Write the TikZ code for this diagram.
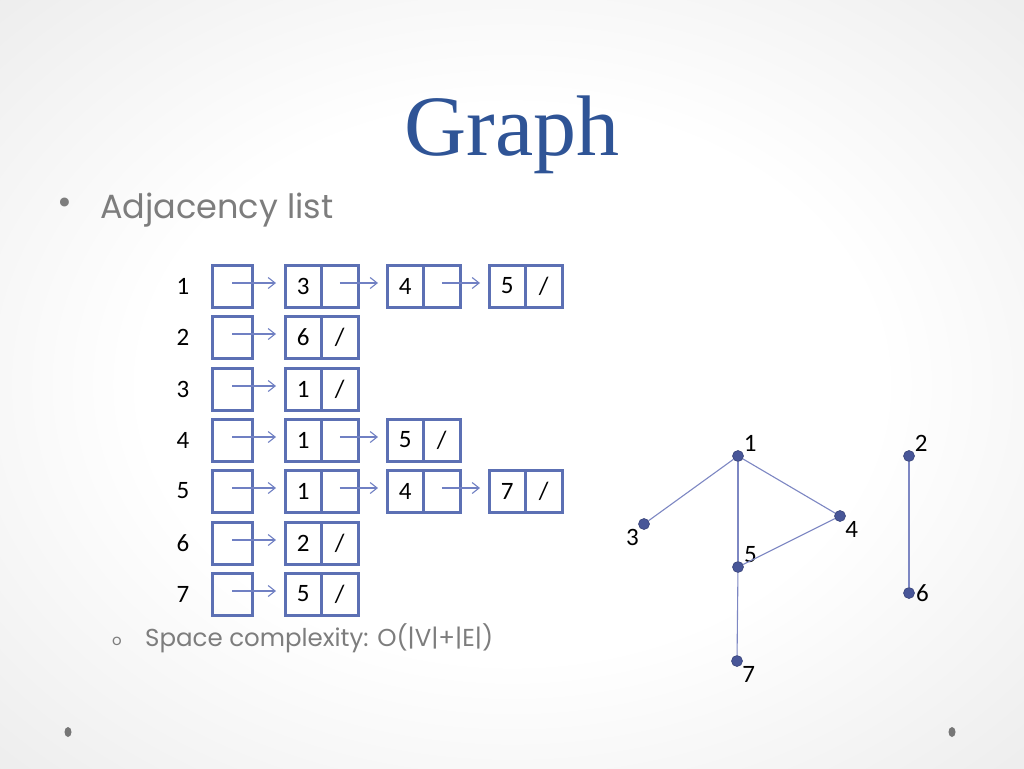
\documentclass[tikz,border=0pt]{standalone}
\usepackage{fontspec}
\setmainfont{Carlito}
\newfontfamily\titlefont{Liberation Serif}
\newfontfamily\slidefont{Poppins}
\usetikzlibrary{positioning, arrows.meta}
\definecolor{boxblue}{RGB}{92,112,180}
\definecolor{arrowblue}{RGB}{112,128,195}
\definecolor{edgeblue}{RGB}{125,135,195}
\definecolor{dotblue}{RGB}{72,86,152}
\definecolor{titleblue}{RGB}{47,84,150}
\definecolor{textgrey}{RGB}{125,125,125}
\definecolor{dotgrey}{RGB}{118,118,118}
\pgfdeclareradialshading{slidebg}{\pgfpoint{0bp}{0bp}}{color(0bp)=(white); color(18bp)=(white); color(71bp)=(black!21)}
\tikzstyle{head} = [rectangle, draw=boxblue, line width=3pt, minimum width=40pt, minimum height=42pt, inner sep=0pt, outer sep=0pt]
\tikzstyle{cell} = [head, minimum width=36.5pt, font=\fontsize{25}{25}\selectfont]
\tikzstyle{num} = [font=\fontsize{25}{25}\selectfont, inner sep=1pt]
\tikzstyle{arrow} = [line width=1.1pt, draw=arrowblue, -{Straight Barb[length=7pt,width=11pt]}]
\tikzstyle{vertex} = [circle, fill=dotblue, draw=dotblue!80!black, line width=0.6pt, minimum size=11pt, inner sep=0pt]
\tikzstyle{edge} = [draw=edgeblue, line width=1.1pt]
\tikzstyle{slidetext} = [text=textgrey, inner sep=0pt]

\begin{document}
\begin{tikzpicture}[x=1pt, y=-1pt, node distance=29pt, label distance=0pt]

\shade[shading=slidebg] (0,0) rectangle (1024,768);
\useasboundingbox (0,0) rectangle (1024,768);

\node (title) [anchor=base, text=titleblue, inner sep=0pt, font=\titlefont\fontsize{86}{86}\selectfont] at (512,155) {Graph};

\node (bul) [slidetext, font=\slidefont\fontsize{36}{36}\selectfont] at (65,206) {•};
\node (adj) [slidetext, anchor=base west, font=\slidefont\fontsize{33.5}{33.5}\selectfont] at (100,218) {Adjacency list};

% adjacency list
\node (l1) [num] at (183,286) {1};
\node (h1) [head] at (232,286) {};
\node (v11) [cell, right=33pt of h1] {3};
\node (p11) [cell, right=0pt of v11] {};
\node (v12) [cell, right=of p11] {4};
\node (p12) [cell, right=0pt of v12] {};
\node (v13) [cell, right=of p12] {5};
\node (p13) [cell, right=0pt of v13] {/};

\node (l2) [num] at (183,337) {2};
\node (h2) [head] at (232,337) {};
\node (v21) [cell, right=33pt of h2] {6};
\node (p21) [cell, right=0pt of v21] {/};

\node (l3) [num] at (183,389) {3};
\node (h3) [head] at (232,389) {};
\node (v31) [cell, right=33pt of h3] {1};
\node (p31) [cell, right=0pt of v31] {/};

\node (l4) [num] at (183,440) {4};
\node (h4) [head] at (232,440) {};
\node (v41) [cell, right=33pt of h4] {1};
\node (p41) [cell, right=0pt of v41] {};
\node (v42) [cell, right=of p41] {5};
\node (p42) [cell, right=0pt of v42] {/};

\node (l5) [num] at (183,491) {5};
\node (h5) [head] at (232,491) {};
\node (v51) [cell, right=33pt of h5] {1};
\node (p51) [cell, right=0pt of v51] {};
\node (v52) [cell, right=of p51] {4};
\node (p52) [cell, right=0pt of v52] {};
\node (v53) [cell, right=of p52] {7};
\node (p53) [cell, right=0pt of v53] {/};

\node (l6) [num] at (183,543) {6};
\node (h6) [head] at (232,543) {};
\node (v61) [cell, right=33pt of h6] {2};
\node (p61) [cell, right=0pt of v61] {/};

\node (l7) [num] at (183,594) {7};
\node (h7) [head] at (232,594) {};
\node (v71) [cell, right=33pt of h7] {5};
\node (p71) [cell, right=0pt of v71] {/};

\draw [arrow] ([yshift=3pt]h1.center) -- ([xshift=-9pt,yshift=3pt]v11.west);
\draw [arrow] ([yshift=3pt]p11.center) -- ([xshift=-9pt,yshift=3pt]v12.west);
\draw [arrow] ([yshift=3pt]p12.center) -- ([xshift=-9pt,yshift=3pt]v13.west);
\draw [arrow] ([yshift=3pt]h2.center) -- ([xshift=-9pt,yshift=3pt]v21.west);
\draw [arrow] ([yshift=3pt]h3.center) -- ([xshift=-9pt,yshift=3pt]v31.west);
\draw [arrow] ([yshift=3pt]h4.center) -- ([xshift=-9pt,yshift=3pt]v41.west);
\draw [arrow] ([yshift=3pt]p41.center) -- ([xshift=-9pt,yshift=3pt]v42.west);
\draw [arrow] ([yshift=3pt]h5.center) -- ([xshift=-9pt,yshift=3pt]v51.west);
\draw [arrow] ([yshift=3pt]p51.center) -- ([xshift=-9pt,yshift=3pt]v52.west);
\draw [arrow] ([yshift=3pt]p52.center) -- ([xshift=-9pt,yshift=3pt]v53.west);
\draw [arrow] ([yshift=3pt]h6.center) -- ([xshift=-9pt,yshift=3pt]v61.west);
\draw [arrow] ([yshift=3pt]h7.center) -- ([xshift=-9pt,yshift=3pt]v71.west);

\node (sbul) [slidetext, font=\slidefont\fontsize{15}{15}\selectfont] at (117,641) {o};
\node (space) [slidetext, anchor=base west, font=\slidefont\fontsize{24.5}{24.5}\selectfont] at (145,646) {Space complexity: O(|V|+|E|)};

% graph
\node (n1) [vertex, label={[num]35:1}] at (738,456) {};
\node (n2) [vertex, label={[num]35:2}] at (909,456) {};
\node (n3) [vertex, label={[num]below left:3}] at (644,524) {};
\node (n4) [vertex, label={[num]below right:4}] at (840,516) {};
\node (n5) [vertex, label={[num]30:5}] at (738,567) {};
\node (n6) [vertex, label={[num]right:6}] at (909,593) {};
\node (n7) [vertex, label={[num]below right:7}] at (737,661) {};

\draw [edge] (n1) -- (n3);
\draw [edge] (n1) -- (n5);
\draw [edge] (n1) -- (n4);
\draw [edge] (n4) -- (n5);
\draw [edge] (n5) -- (n7);
\draw [edge] (n2) -- (n6);

\fill [dotgrey] (68,732) ellipse [x radius=3.5, y radius=5];
\fill [dotgrey] (952,732) ellipse [x radius=3.5, y radius=5];

\end{tikzpicture}
\end{document}
